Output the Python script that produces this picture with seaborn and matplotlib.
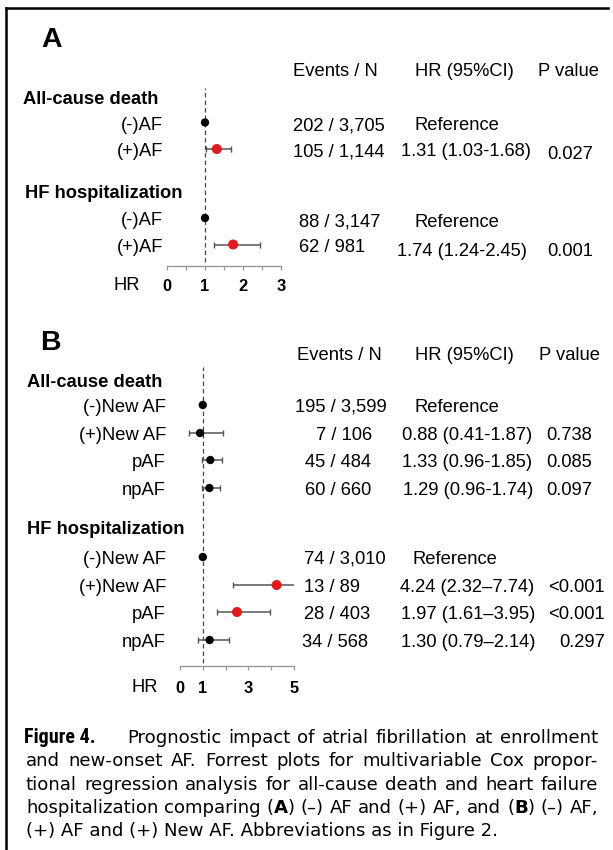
import numpy as np
import pandas as pd
import matplotlib
matplotlib.use("Agg")
import matplotlib.pyplot as plt
import seaborn as sns
from matplotlib import font_manager as fm

sns.set_theme(style="white", rc={"text.color": "black", "xtick.color": "black"})
plt.rcParams["font.family"] = ["Liberation Sans", "DejaVu Sans"]

# ---------------- data: panel A ----------------
a_groups = ["All-cause death", "HF hospitalization"]
a_labels = ["(-)AF", "(+)AF", "(-)AF", "(+)AF"]
a_events = ["202 / 3,705", "105 / 1,144", "88 / 3,147", "62 / 981"]
a_hr = [1.00, 1.31, 1.00, 1.74]
a_lo = [np.nan, 1.03, np.nan, 1.24]
a_hi = [np.nan, 1.68, np.nan, 2.45]
a_hr_text = ["Reference", "1.31 (1.03-1.68)", "Reference", "1.74 (1.24-2.45)"]
a_p_text = ["", "0.027", "", "0.001"]
a_highlight = [False, True, False, True]

# ---------------- data: panel B ----------------
b_groups = ["All-cause death", "HF hospitalization"]
b_labels = ["(-)New AF", "(+)New AF", "pAF", "npAF", "(-)New AF", "(+)New AF", "pAF", "npAF"]
b_events = ["195 / 3,599", "7 / 106", "45 / 484", "60 / 660",
            "74 / 3,010", "13 / 89", "28 / 403", "34 / 568"]
# point positions as drawn in the figure (pAF / HF point is drawn near 2.5)
b_hr = [1.00, 0.88, 1.33, 1.29, 1.00, 4.24, 2.50, 1.30]
b_lo = [np.nan, 0.41, 0.96, 0.96, np.nan, 2.32, 1.61, 0.79]
b_hi = [np.nan, 1.87, 1.85, 1.74, np.nan, 7.74, 3.95, 2.14]
b_hr_text = ["Reference", "0.88 (0.41-1.87)", "1.33 (0.96-1.85)", "1.29 (0.96-1.74)",
             "Reference", "4.24 (2.32\u20137.74)", "1.97 (1.61\u20133.95)", "1.30 (0.79\u20132.14)"]
b_p_text = ["", "0.738", "0.085", "0.097", "", "<0.001", "<0.001", "0.297"]
b_highlight = [False, False, False, False, False, True, True, False]

col_headers = ["Events / N", "HR (95%CI)", "P value"]
a_ticks = [0, 0.5, 1, 1.5, 2, 2.5, 3]
a_ticklabels = ["0", "", "1", "", "2", "", "3"]
b_ticks = [0, 1, 2, 3, 4, 5]
b_ticklabels = ["0", "1", "", "3", "", "5"]

caption_lines = [
    "Prognostic impact of atrial fibrillation at enrollment",
    "and new-onset AF. Forrest plots for multivariable Cox propor-",
    "tional regression analysis for all-cause death and heart failure",
    "hospitalization comparing (**A**) (\u2013) AF and (+) AF, and (**B**) (\u2013) AF,",
    "(+) AF and (+) New AF. Abbreviations as in Figure 2.",
]
caption_title = "Figure 4."

# ---------------- layout (pixels) ----------------
W, H = 613, 850
RED = "#e31a1c"
FS = 13.2          # main text size (pt)
TICK_FS = 11.8

a_rows_y = [122.5, 149, 218, 244.5]
a_group_base = [104, 197.5]
a_group_x = [22.7, 25.4]
a_label_right = 163
a_events_x = [293.4, 293.4, 299.3, 299.3]
a_events_dy = [7.5, 7, 8.5, 7]
a_hr_x = [414.7, 401, 414, 397]
a_hr_dy = [7.5, 7, 8.5, 11.5]
a_p_x = [547, 547, 547, 547]
a_p_dy = [0, 10, 0, 11.5]

b_rows_y = [405, 433, 460, 488, 557, 585, 612, 640]
b_group_base = [387, 534]
b_group_x = [27.4, 27.4]
b_label_right = 166
b_events_x = [295.4, 316, 305, 305, 304.4, 304.4, 303.6, 302]
b_hr_x = [414, 402.2, 402.2, 403, 413, 400, 401, 401]
b_p_x = [546.6, 546.6, 546.6, 546.6, 548.5, 548.5, 548.5, 559.5]
b_dy = 6.8

fig = plt.figure(figsize=(W / 100, H / 100), dpi=100)
bg = fig.add_axes([0, 0, 1, 1])
bg.set_xlim(0, W)
bg.set_ylim(H, 0)
bg.axis("off")

# frame (left and top edges)
bg.plot([6, 6], [H + 5, 8], color="black", lw=1.8, solid_capstyle="projecting")
bg.plot([6, 608], [8, 8], color="black", lw=1.8, solid_capstyle="projecting")


def px_axes(left, right, top, bottom):
    return fig.add_axes([left / W, 1 - bottom / H, (right - left) / W, (bottom - top) / H])


def draw_forest(ax, hr, lo, hi, ys, hl, xmax, ticks, ticklabels, top, bottom, dash_bottom, pad):
    df = pd.DataFrame({"hr": hr, "lo": lo, "hi": hi, "y": ys,
                       "sig": np.where(hl, "sig", "ns")})
    ci = df.dropna(subset=["lo"])
    ax.errorbar(ci["hr"], ci["y"], xerr=[ci["hr"] - ci["lo"], ci["hi"] - ci["hr"]],
                fmt="none", ecolor="#555555", elinewidth=1.1, capsize=2.5,
                capthick=1.0, zorder=2)
    ax.vlines(1, dash_bottom, top, colors="#444444", linestyles=(0, (3.5, 2.5)),
              linewidth=0.9, zorder=1)
    sns.scatterplot(data=df, x="hr", y="y", hue="sig", size="sig",
                    palette={"sig": RED, "ns": "black"}, sizes={"sig": 52, "ns": 36},
                    linewidth=0, legend=False, ax=ax, zorder=3)
    ax.set_xlim(0, xmax)
    ax.set_ylim(bottom, top)
    ax.set_xlabel("")
    ax.set_ylabel("")
    ax.set_yticks([])
    ax.set_xticks(ticks)
    ax.set_xticklabels(ticklabels)
    for t in ax.get_xticklabels():
        t.set_fontweight("bold")
        t.set_fontsize(TICK_FS)
    ax.tick_params(axis="x", direction="out", length=3, width=0.9, color="#999999",
                   labelcolor="black", pad=pad, bottom=True)
    for s in ["top", "left", "right"]:
        ax.spines[s].set_visible(False)
    ax.spines["bottom"].set_color("#999999")
    ax.spines["bottom"].set_linewidth(1.0)
    ax.patch.set_alpha(0)


axA = px_axes(167, 281, 88, 265.5)
draw_forest(axA, a_hr, a_lo, a_hi, a_rows_y, a_highlight, 3, a_ticks, a_ticklabels,
            88, 265.5, 262, 6.6)
axB = px_axes(180, 294, 367, 666)
draw_forest(axB, b_hr, b_lo, b_hi, b_rows_y, b_highlight, 5, b_ticks, b_ticklabels,
            367, 666, 663, 7.6)


def txt(x, y, s, ha="left", weight="normal", size=FS, **kw):
    bg.text(x, y, s, ha=ha, va="baseline", fontsize=size, fontweight=weight,
            color="black", **kw)


# ---- Panel A text ----
txt(41, 47, "A", weight="bold", size=20.5)
for x, s in zip([293.4, 414.7, 538], col_headers):
    txt(x, 75.5, s)
for x, yb, s in zip(a_group_x, a_group_base, a_groups):
    txt(x, yb, s, weight="bold")
for i, y in enumerate(a_rows_y):
    txt(a_label_right, y + 7, a_labels[i], ha="right")
    txt(a_events_x[i], y + a_events_dy[i], a_events[i])
    txt(a_hr_x[i], y + a_hr_dy[i], a_hr_text[i])
    if a_p_text[i]:
        txt(a_p_x[i], y + a_p_dy[i], a_p_text[i])
txt(127, 290, "HR", ha="center")

# ---- Panel B text ----
txt(40, 350, "B", weight="bold", size=20.5)
for x, s in zip([297.3, 414.7, 539], col_headers):
    txt(x, 359.5, s)
for x, yb, s in zip(b_group_x, b_group_base, b_groups):
    txt(x, yb, s, weight="bold")
for i, y in enumerate(b_rows_y):
    txt(b_label_right, y + b_dy, b_labels[i], ha="right")
    txt(b_events_x[i], y + b_dy, b_events[i])
    txt(b_hr_x[i], y + b_dy, b_hr_text[i])
    if b_p_text[i]:
        txt(b_p_x[i], y + b_dy, b_p_text[i])
txt(145, 691.5, "HR", ha="center")

# ---- caption (justified) ----
renderer = fig.canvas.get_renderer()
CAP_FAMILY = ["DejaVu Sans"]


def text_wh(s, fp):
    w, h, d = renderer.get_text_width_height_descent(s, fp, ismath=False)
    return w, h - d


def text_w(s, fp):
    return text_wh(s, fp)[0]


def fp_of(size, bold=False):
    return fm.FontProperties(family=CAP_FAMILY, size=size, weight="bold" if bold else "normal")


# fit caption size so that the last (unjustified) line has the reference width
cap_left, cap_right = 26, 598
ref_w = text_w(caption_lines[-1], fp_of(12))
cap_size = 12 * 471 / ref_w


def parse_word(w):
    segs = []
    for k, p in enumerate(w.split("**")):
        if p:
            segs.append((p, k % 2 == 1))
    return segs


def word_width(w):
    return sum(text_w(p, fp_of(cap_size, b)) for p, b in parse_word(w))


def draw_word(x, y, w):
    for p, b in parse_word(w):
        bg.text(x, y, p, ha="left", va="baseline", fontsize=cap_size,
                fontweight="bold" if b else "normal", family=CAP_FAMILY, color="black")
        x += text_w(p, fp_of(cap_size, b))


def draw_justified(line, x0, x1, y):
    words = line.split(" ")
    widths = [word_width(w) for w in words]
    gap = (x1 - x0 - sum(widths)) / (len(words) - 1)
    x = x0
    for w, wd in zip(words, widths):
        draw_word(x, y, w)
        x += wd + gap


# condensed bold font for "Figure 4."
title_family, title_stretch = ["Liberation Sans"], "normal"
for fam, stretch in [("Liberation Sans Narrow", "normal"), ("Roboto Condensed", "normal"),
                     ("DejaVu Sans", "condensed")]:
    try:
        f = fm.findfont(fm.FontProperties(family=fam, weight="bold", stretch=stretch),
                        fallback_to_default=False)
        if ("Narrow" in f) or ("Condensed" in f):
            title_family, title_stretch = [fam], stretch
            break
    except Exception:
        pass
tfp = fm.FontProperties(family=title_family, weight="bold", stretch=title_stretch, size=12)
cap_h = text_wh("F", tfp)[1]
title_size = 12 * 14.5 / cap_h
tw = text_w(caption_title, tfp) * title_size / 12
if tw > 85:
    title_size *= 85 / tw

cap_base = [743, 766.5, 790, 813, 836]
bg.text(cap_left - 2, cap_base[0], caption_title, ha="left", va="baseline",
        fontsize=title_size, fontweight="bold", family=title_family,
        fontstretch=title_stretch, color="black")
draw_justified(caption_lines[0], 127, cap_right, cap_base[0])
for line, yb in zip(caption_lines[1:4], cap_base[1:4]):
    draw_justified(line, cap_left, cap_right, yb)
bg.text(cap_left, cap_base[4], caption_lines[4], ha="left", va="baseline",
        fontsize=cap_size, family=CAP_FAMILY, color="black")

fig.savefig("out.png", dpi=100)
